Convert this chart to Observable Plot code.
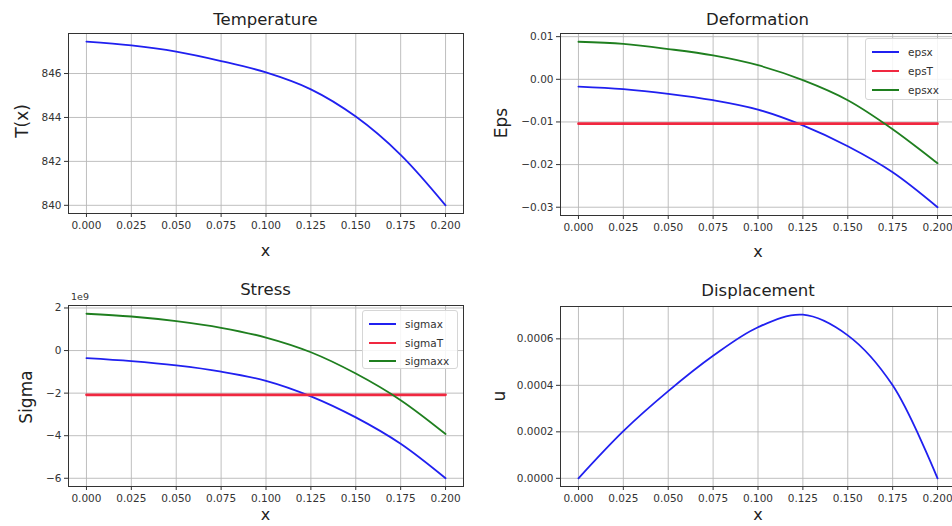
<!DOCTYPE html>
<html><head><meta charset="utf-8">
<script src="https://cdn.jsdelivr.net/npm/d3@7"></script>
<script src="https://cdn.jsdelivr.net/npm/@observablehq/plot@0.6"></script>
<style>
html,body{margin:0;padding:0;background:#fff;overflow:hidden;}
#root{position:relative;width:952px;height:526px;overflow:hidden;font-family:"DejaVu Sans",sans-serif;color:#333;}
.abs{position:absolute;white-space:nowrap;transform:translate(-50%,-50%);line-height:1;}
.title{font-size:16.5px;color:#222;}
.xlab{font-size:16px;color:#222;}
.ylab{font-size:17px;color:#222;transform:translate(-50%,-50%) rotate(-90deg);}
.legend{position:absolute;background:rgba(255,255,255,0.85);border:1px solid #d6d6d6;border-radius:3px;font-size:10.5px;color:#333;box-sizing:border-box;}
.legend .sw{position:absolute;width:27px;height:0;}
.legend .tx{position:absolute;transform:translateY(-50%);line-height:1;white-space:nowrap;}
.panel{position:absolute;}
</style></head>
<body><div id="root"></div>
<script>
// ---- data ----
const xs = [0, 0.025, 0.05, 0.075, 0.1, 0.125, 0.15, 0.175, 0.2];
const xTicks = [0, 0.025, 0.05, 0.075, 0.1, 0.125, 0.15, 0.175, 0.2];

const temperature = [847.45, 847.28, 847.0, 846.57, 846.05, 845.28, 844.04, 842.3, 840.0];
const tTicks = [840, 842, 844, 846];

const epsx  = [-0.0017, -0.0023, -0.0034, -0.0049, -0.0071, -0.0108, -0.0157, -0.0218, -0.0300];
const epsT  = [-0.0104, -0.0104, -0.0104, -0.0104, -0.0104, -0.0104, -0.0104, -0.0104, -0.0104];
const epsxx = [0.0088, 0.0083, 0.0071, 0.0056, 0.0033, -0.0002, -0.0049, -0.0117, -0.0197];
const epsTicks = [-0.03, -0.02, -0.01, 0.0, 0.01];
const epsLabels = ["epsx", "epsT", "epsxx"];

const sigmax  = [-0.36e9, -0.50e9, -0.70e9, -0.99e9, -1.42e9, -2.15e9, -3.14e9, -4.38e9, -6.0e9];
const sigmaT  = [-2.08e9, -2.08e9, -2.08e9, -2.08e9, -2.08e9, -2.08e9, -2.08e9, -2.08e9, -2.08e9];
const sigmaxx = [1.73e9, 1.60e9, 1.38e9, 1.07e9, 0.61e9, -0.08e9, -1.08e9, -2.33e9, -3.92e9];
const sigmaTicks = [-6e9, -4e9, -2e9, 0, 2e9];
const sigmaLabels = ["sigmax", "sigmaT", "sigmaxx"];

const u = [0, 0.000203, 0.000375, 0.000527, 0.00065, 0.000704, 0.000615, 0.0004, 0];
const uTicks = [0, 0.0002, 0.0004, 0.0006];

const titles = ["Temperature", "Deformation", "Stress", "Displacement"];
const yLabels = ["T(x)", "Eps", "Sigma", "u"];
const xLabel = "x";

// ---- styles ----
const C = {blue: "#2020f0", red: "#f02840", green: "#1f7f1f"};
const root = document.getElementById("root");
const xDomain = [-0.01, 0.21];

function padDomain(arrs) {
  const all = arrs.flat();
  const [lo, hi] = d3.extent(all);
  const p = (hi - lo) * 0.05;
  return [lo - p, hi + p];
}

function panel({left, top, width, height, ml, mr, mt, mb, yTicks, yFormat, series}) {
  const yDomain = padDomain(series.map(s => s.values));
  const marks = [
    Plot.gridX(xTicks, {stroke: "#b8b8b8", strokeOpacity: 1, strokeWidth: 0.9}),
    Plot.gridY(yTicks, {stroke: "#b8b8b8", strokeOpacity: 1, strokeWidth: 0.9}),
    Plot.axisX(xTicks, {tickSize: 4, tickPadding: 4, tickFormat: d3.format(".3f"), label: null, stroke: "#333"}),
    Plot.axisY(yTicks, {tickSize: 4, tickPadding: 3, tickFormat: yFormat, label: null, stroke: "#333"}),
    ...series.map(s => Plot.line(xs.map((x, i) => ({x, y: s.values[i]})), {
      x: "x", y: "y", stroke: s.color, strokeWidth: s.width || 1.8, curve: "catmull-rom"
    })),
    Plot.frame({stroke: "#333", strokeWidth: 1})
  ];
  const svg = Plot.plot({
    width, height, marginLeft: ml, marginRight: mr, marginTop: mt, marginBottom: mb,
    x: {domain: xDomain}, y: {domain: yDomain},
    style: {fontFamily: "DejaVu Sans", fontSize: "10.5px", color: "#333", background: "transparent", overflow: "visible"},
    marks
  });
  svg.classList.add("panel");
  svg.style.left = left + "px";
  svg.style.top = top + "px";
  root.appendChild(svg);
}

function label(text, cls, x, y) {
  const d = document.createElement("div");
  d.className = "abs " + cls;
  d.textContent = text;
  d.style.left = x + "px";
  d.style.top = y + "px";
  root.appendChild(d);
  return d;
}

function legend(labels, colors, x, y, w, h, rows) {
  const box = document.createElement("div");
  box.className = "legend";
  Object.assign(box.style, {left: x + "px", top: y + "px", width: w + "px", height: h + "px"});
  labels.forEach((t, i) => {
    const sw = document.createElement("div");
    sw.className = "sw";
    Object.assign(sw.style, {left: "6px", top: rows[i] + "px", borderTop: "2px solid " + colors[i], marginTop: "-1px"});
    const tx = document.createElement("div");
    tx.className = "tx";
    tx.textContent = t;
    Object.assign(tx.style, {left: "42px", top: rows[i] + "px"});
    box.appendChild(sw); box.appendChild(tx);
  });
  root.appendChild(box);
}

// Temperature
panel({left: 0, top: 0, width: 476, height: 263, ml: 68, mr: 13, mt: 33, mb: 50,
  yTicks: tTicks, yFormat: d3.format("d"),
  series: [{values: temperature, color: C.blue}]});
// Deformation
panel({left: 476, top: 0, width: 490, height: 263, ml: 84, mr: 11, mt: 33, mb: 48,
  yTicks: epsTicks, yFormat: d3.format(".2f"),
  series: [{values: epsx, color: C.blue}, {values: epsT, color: C.red, width: 2.6}, {values: epsxx, color: C.green}]});
// Stress
panel({left: 0, top: 263, width: 476, height: 263, ml: 68, mr: 13, mt: 42, mb: 40,
  yTicks: sigmaTicks, yFormat: d => d3.format("d")(d / 1e9),
  series: [{values: sigmax, color: C.blue}, {values: sigmaT, color: C.red, width: 2.6}, {values: sigmaxx, color: C.green}]});
// Displacement
panel({left: 476, top: 263, width: 490, height: 263, ml: 84, mr: 11, mt: 43, mb: 40,
  yTicks: uTicks, yFormat: d3.format(".4f"),
  series: [{values: u, color: C.blue}]});

// titles
label(titles[0], "title", 265.5, 20);
label(titles[1], "title", 757.5, 20);
label(titles[2], "title", 265.5, 290);
label(titles[3], "title", 758, 291);
// axis labels
label(xLabel, "xlab", 265.5, 251);
label(xLabel, "xlab", 758, 252);
label(xLabel, "xlab", 265.5, 515);
label(xLabel, "xlab", 758, 515);
label(yLabels[0], "ylab", 22, 121);
label(yLabels[1], "ylab", 501, 123);
label(yLabels[2], "ylab", 26, 397);
label(yLabels[3], "ylab", 499, 396);
label("1e9", "abs", 80, 297).style.fontSize = "9.5px";

legend(epsLabels, [C.blue, C.red, C.green], 865, 38, 92, 62, [13, 31.5, 51]);
legend(sigmaLabels, [C.blue, C.red, C.green], 362, 310, 96, 59, [13, 31.5, 50]);
</script>
</body></html>
